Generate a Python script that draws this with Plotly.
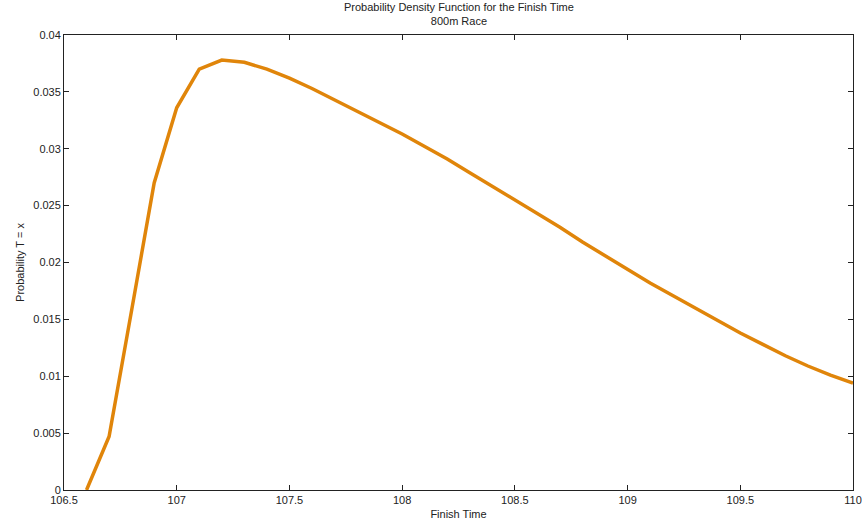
import plotly.graph_objects as go

finish_time = [106.6, 106.7, 106.8, 106.9, 107.0, 107.1, 107.2, 107.3, 107.4, 107.5,
               107.6, 107.7, 107.8, 107.9, 108.0, 108.1, 108.2, 108.3, 108.4, 108.5,
               108.6, 108.7, 108.8, 108.9, 109.0, 109.1, 109.2, 109.3, 109.4, 109.5,
               109.6, 109.7, 109.8, 109.9, 110.0]
probability = [0.0000, 0.0047, 0.0158, 0.0270, 0.0336, 0.0370, 0.0378, 0.0376, 0.0370, 0.0362,
               0.0353, 0.0343, 0.0333, 0.0323, 0.0313, 0.0302, 0.0291, 0.0279, 0.0267, 0.0255,
               0.0243, 0.0231, 0.0218, 0.0206, 0.0194, 0.0182, 0.0171, 0.0160, 0.0149, 0.0138,
               0.0128, 0.0118, 0.0109, 0.0101, 0.0094]

x_ticks = [106.5, 107, 107.5, 108, 108.5, 109, 109.5, 110]
x_tick_labels = ["106.5", "107", "107.5", "108", "108.5", "109", "109.5", "110"]
y_ticks = [0, 0.005, 0.01, 0.015, 0.02, 0.025, 0.03, 0.035, 0.04]
y_tick_labels = ["0", "0.005", "0.01", "0.015", "0.02", "0.025", "0.03", "0.035", "0.04"]

fig = go.Figure()
fig.add_trace(go.Scatter(x=finish_time, y=probability, mode="lines",
                         line=dict(color="#E0850A", width=3.5), showlegend=False))

font = dict(family="Liberation Sans, Arial, sans-serif", size=11, color="#222222")
axis_common = dict(showgrid=False, zeroline=False, showline=True, linecolor="#222222",
                   linewidth=1, mirror="ticks", ticks="inside", ticklen=5,
                   tickcolor="#222222", tickfont=font, automargin=False)

fig.update_layout(
    width=862, height=529,
    margin=dict(l=64, r=9, t=35, b=39),
    paper_bgcolor="white", plot_bgcolor="white",
    font=font,
    annotations=[dict(text="Probability Density Function for the Finish Time<br>800m Race",
                      xref="paper", yref="paper", x=0.5, y=1, xanchor="center",
                      yanchor="bottom", yshift=6, showarrow=False, align="center",
                      font=font)],
    xaxis=dict(range=[106.5, 110], tickvals=x_ticks, ticktext=x_tick_labels,
               title=dict(text="Finish Time", standoff=5, font=font), **axis_common),
    yaxis=dict(range=[0, 0.04], tickvals=y_ticks, ticktext=y_tick_labels,
               title=dict(text="Probability T = x", standoff=6, font=font), **axis_common),
)

fig.write_html("out.html")
